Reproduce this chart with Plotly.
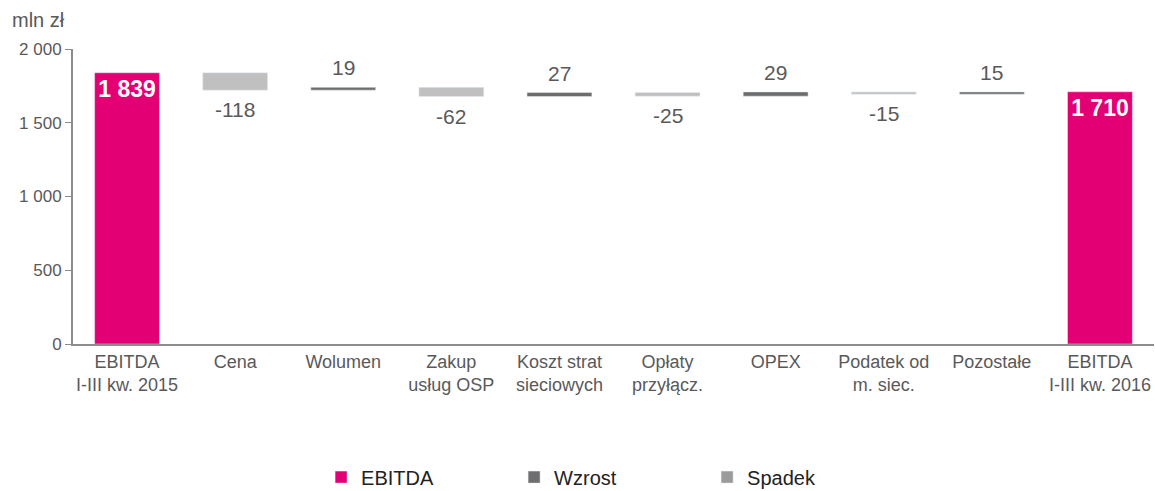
import plotly.graph_objects as go

# Waterfall data: EBITDA bridge, mln zł
categories = ['EBITDA<br>I-III kw. 2015', 'Cena', 'Wolumen', 'Zakup<br>usług OSP',
              'Koszt strat<br>sieciowych', 'Opłaty<br>przyłącz.', 'OPEX',
              'Podatek od<br>m. siec.', 'Pozostałe', 'EBITDA<br>I-III kw. 2016']
start_total = 1839
changes = [-118, 19, -62, 27, -25, 29, -15, 15]
end_total = 1710
total_labels = ['1 839', '1 710']

PINK = '#E20074'
DARK = '#6d6d6d'
LIGHT = '#c0c0c0'
TXT = '#595959'
FONT = 'Liberation Sans, Arial'

# bases / heights for each bar
ebitda_x = [categories[0], categories[-1]]
ebitda_y = [start_total, end_total]

up_x, up_y, up_base = [], [], []
down_x, down_y, down_base = [], [], []
annotations = []
level = start_total
for cat, ch in zip(categories[1:-1], changes):
    if ch >= 0:
        up_x.append(cat); up_y.append(ch); up_base.append(level)
        annotations.append(dict(x=cat, y=level + ch, text=str(ch), yanchor='bottom',
                                yshift=6, showarrow=False, font=dict(size=21, color=TXT)))
    else:
        down_x.append(cat); down_y.append(-ch); down_base.append(level + ch)
        annotations.append(dict(x=cat, y=level + ch, text=str(ch), yanchor='top',
                                yshift=-6, showarrow=False, font=dict(size=21, color=TXT)))
    level += ch

fig = go.Figure()
fig.add_trace(go.Bar(x=ebitda_x, y=ebitda_y, marker_color=PINK, width=0.6,
                     text=total_labels, textposition='inside', insidetextanchor='end',
                     textfont=dict(size=23, color='white', family=FONT, weight='bold'),
                     showlegend=False))
fig.add_trace(go.Bar(x=up_x, y=up_y, base=up_base, marker_color=DARK, width=0.6, showlegend=False))
fig.add_trace(go.Bar(x=down_x, y=down_y, base=down_base, marker_color=LIGHT, width=0.6, showlegend=False))

# legend-only entries
fig.add_trace(go.Bar(x=[None], y=[None], name='EBITDA', marker_color=PINK))
fig.add_trace(go.Bar(x=[None], y=[None], name='Wzrost', marker_color='#6f6f6f'))
fig.add_trace(go.Bar(x=[None], y=[None], name='Spadek', marker_color='#9b9b9b'))

fig.update_layout(
    width=1155, height=491,
    margin=dict(l=73, r=1, t=49, b=147),
    barmode='overlay',
    separators='. ',
    plot_bgcolor='white', paper_bgcolor='white',
    font=dict(family=FONT, size=18, color=TXT),
    showlegend=True,
    legend=dict(orientation='h', xref='container', yref='container', x=0.278, xanchor='left',
                y=0.068, yanchor='top', entrywidth=148, font=dict(size=20, color='#222222'),
                traceorder='normal'),
    annotations=annotations,
)
fig.add_annotation(text='mln zł', xref='paper', yref='paper', x=-0.058, y=1.055,
                   xanchor='left', yanchor='bottom', showarrow=False,
                   font=dict(size=20, color=TXT))
fig.update_xaxes(categoryorder='array', categoryarray=categories, showline=True,
                 linecolor='#8c8c8c', linewidth=2, ticks='', tickfont=dict(size=18, color=TXT),
                 range=[-0.5, 9.5], automargin=False)
fig.update_yaxes(range=[0, 2000], tickvals=[0, 500, 1000, 1500, 2000], tickformat=',d',
                 showgrid=False, zeroline=False, showline=True, linecolor='#8c8c8c', linewidth=2,
                 ticks='outside', ticklen=6, tickcolor='#8c8c8c', tickfont=dict(size=17, color=TXT),
                 automargin=False)

# drop the default body margin so the figure sits flush with the window
fig.write_html('out.html', config={'displayModeBar': False},
               post_script="document.body.style.margin='0';")
